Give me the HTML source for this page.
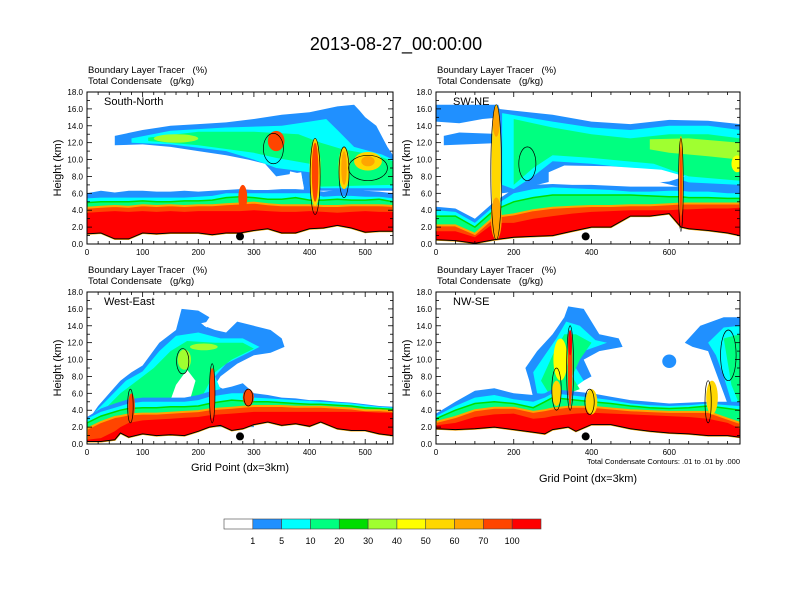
<!DOCTYPE html>
<html><head><meta charset="utf-8">
<style>
html,body{margin:0;padding:0;background:#fff;}
svg{display:block;font-family:"Liberation Sans",Arial,sans-serif;}
svg text{white-space:pre;}
</style></head>
<body>
<svg id="chart" width="792" height="612" viewBox="0 0 792 612" xmlns="http://www.w3.org/2000/svg">
<text x="396" y="50" font-size="18" text-anchor="middle">2013-08-27_00:00:00</text>
</svg>
<script>
const NS='http://www.w3.org/2000/svg';
const svg=document.getElementById('chart');
const C={blue:'#2090ff',cyan:'#00ffff',sg:'#00ff80',green:'#00dd00',lime:'#a0ff30',yellow:'#ffff00',gold:'#ffd700',orange:'#ffa500',or:'#ff4500',red:'#ff0000'};

// ---- Panel 1: South-North ----
const p1X=[0,25,50,75,100,125,150,175,200,225,250,275,300,325,350,375,400,425,450,475,500,525,550];
const p1Ground=[1.2,1.3,0.6,0.6,1.3,1.2,1.3,1.3,1.3,1.1,1.3,1.3,1.6,1.8,1.3,1.3,1.8,1.9,2.2,1.9,1.4,1.5,1.5];
const p1Red=[3.7,3.8,3.9,3.8,3.9,3.8,3.9,3.8,3.9,3.9,3.9,3.9,4.0,3.9,3.8,3.8,3.9,3.8,3.7,3.8,3.9,3.8,3.8];
const p1Or=[4.3,4.4,4.5,4.4,4.6,4.5,4.6,4.5,4.6,4.6,4.7,4.8,4.9,4.7,4.6,4.6,4.6,4.5,4.5,4.6,4.6,4.6,4.5];
const p1Green=[4.9,5.0,5.0,5.0,5.1,5.0,5.0,5.1,5.1,5.2,5.5,5.6,5.5,5.3,5.3,5.5,5.2,5.2,5.3,5.2,5.2,5.3,5.0];
const p1Cyan=[5.4,5.5,5.5,5.5,5.5,5.5,5.5,5.5,5.6,5.7,6.0,6.0,6.0,6.0,6.0,6.0,6.0,5.6,5.7,5.7,5.6,5.6,5.4];
const p1Blue=[6.0,6.3,6.1,6.3,6.3,6.2,6.2,6.3,6.2,6.3,6.4,6.5,6.4,6.4,6.5,6.5,6.4,6.2,6.4,6.5,6.3,6.2,6.0];
const p1CloudBlue=[[50,12.8],[100,13.5],[150,14],[200,14.2],[250,14.4],[300,14.8],[350,15.3],[400,15.6],[450,16.3],[480,16.5],[490,15.8],[500,15],[520,14],[540,11.5],[550,10.5],[550,6.3],[390,6.3],[385,8.5],[340,8],[320,9.5],[290,10],[250,10.5],[200,11],[150,11.5],[100,11.8],[50,11.7]];
const p1CloudCyan=[[80,12.5],[150,13.4],[250,13.8],[350,14],[400,14.5],[430,14.8],[450,13.5],[480,11.5],[530,10.6],[550,10],[550,6.6],[420,6.6],[400,8.5],[340,9],[300,10],[250,11],[150,11.8],[80,12]];
const p1CloudGreen=[[110,12.6],[200,13.3],[300,13.3],[380,13],[420,12],[460,11.2],[520,10.5],[550,9.8],[550,7],[420,6.8],[400,9.5],[340,10.2],[300,10.8],[200,11.7],[110,12.2]];
const p1Holes=[[[360,6.6],[390,6.6],[385,8.3],[365,8.6]]];
const p1Blobs=[[160,12.5,40,0.5,'lime'],[505,9.8,25,1.1,'gold'],[505,9.8,12,0.6,'orange'],[340,12.2,15,1.2,'or'],[410,8.5,10,4,'gold'],[410,8.5,6,3.5,'or'],[462,9,10,2.5,'gold'],[462,9,5,2,'orange'],[280,5.5,8,1.5,'or']];
const p1Contours=[[335,11.3,18,1.8],[410,8,9,4.5],[462,8.5,9,3],[505,9,35,1.5]];

// ---- Panel 2: SW-NE ----
const p2X=[0,50,100,150,200,250,300,350,400,450,500,550,600,630,650,700,750,782];
const p2Ground=[0.5,0.4,0.1,0.5,0.8,0.9,1.0,1.5,2.0,2.0,3.3,3.3,3.6,2.0,1.8,1.6,1.3,1.0];
const p2Red=[1.5,1.5,0.8,2.5,2.5,3.0,3.3,3.6,3.8,3.9,4.0,4.0,4.0,4.1,4.1,4.2,4.2,4.3];
const p2Or=[2.2,2.2,1.2,3.2,3.5,4.0,4.3,4.4,4.5,4.5,4.6,4.6,4.7,4.8,4.8,4.8,4.8,4.8];
const p2Green=[3.3,3.3,2.0,4.0,5.0,5.5,5.8,5.8,5.8,5.8,5.8,5.7,5.6,5.6,5.5,5.5,5.4,5.4];
const p2Cyan=[4.0,3.8,2.5,4.5,6.0,6.5,6.7,6.6,6.5,6.4,6.2,6.2,6.3,6.3,6.2,6.2,6.0,6.0];
const p2Blue=[4.4,4.2,3.0,5.0,6.5,7.0,7.1,7.0,7.0,6.9,6.8,6.8,6.8,6.8,6.7,6.6,6.5,6.5];
const p2CloudTop=[[0,14.5],[0,16.5],[160,16.5],[170,15],[120,14.8],[60,14.3]];
const p2CloudStrip=[[20,11.7],[180,12],[180,13],[60,13.2],[20,12.8]];
const p2CloudBlue=[[160,16],[200,15.8],[300,15.3],[400,14.5],[500,14.2],[600,14.7],[700,14.6],[782,14.2],[782,6.3],[650,6.5],[560,7.5],[450,7.8],[330,7.8],[260,7],[220,6.3],[170,6],[160,10]];
const p2CloudCyan=[[170,15.5],[300,14.5],[400,13.8],[500,13.5],[600,14],[700,14],[782,13.5],[782,7],[650,7.3],[560,8.7],[400,9.5],[300,9.8],[250,8],[200,6.5],[170,7]];
const p2CloudGreen=[[200,14.8],[300,13.8],[400,13],[500,12.5],[600,13],[700,13],[782,12.5],[782,7.5],[650,8],[560,9.5],[400,10.2],[300,10.5],[250,9],[200,7]];
const p2CloudLime=[[550,12.4],[650,12.5],[782,12],[782,10],[700,10.4],[600,10.8],[550,11.2]];
const p2Holes=[[[290,7],[400,7.2],[500,7.0],[600,7.4],[640,8],[580,8.8],[450,9.2],[330,9.3],[290,8.5]]];
const p2Blobs=[[155,9,12,7.5,'gold'],[155,14.5,9,1.8,'orange'],[155,3,14,2.5,'orange'],[630,8,6,4.8,'orange'],[630,7,3,4.5,'or'],[775,9.5,15,1,'yellow'],[240,10.5,15,1.5,'sg']];
const p2Contours=[[155,8.5,14,8],[235,9.5,22,2],[630,7,6,5.5]];

// ---- Panel 3: West-East ----
const p3X=[0,25,50,60,75,100,125,150,175,200,220,240,260,280,300,325,350,375,400,420,450,475,500,525,550];
const p3Ground=[0.3,0.3,0.5,1.3,0.8,1.2,1.0,1.1,1.0,1.5,2.0,2.2,1.6,1.8,2.3,2.6,2.2,2.4,2.1,2.6,1.8,1.6,1.6,1.2,1.0];
const p3Red=[0.5,0.7,1.5,2.0,2.5,2.8,2.9,3.0,3.1,3.2,3.4,3.5,3.6,3.7,3.8,3.8,3.8,3.8,3.8,3.8,3.8,3.8,3.8,3.7,3.7];
const p3Or=[1.8,2.6,3.2,3.3,3.5,3.6,3.6,3.7,3.8,3.9,4.1,4.2,4.3,4.4,4.5,4.5,4.5,4.4,4.4,4.4,4.3,4.2,4.0,4.0,3.9];
const p3Green=[2.5,3.3,3.8,4.0,4.2,4.3,4.3,4.4,4.4,4.5,4.8,5.0,5.2,5.1,5.0,5.0,4.9,4.8,4.7,4.7,4.6,4.5,4.3,4.2,4.1];
const p3Cyan=[3.0,3.8,4.3,4.5,4.8,5.0,5.0,5.0,5.0,5.2,5.6,5.8,6.0,6.0,5.5,5.4,5.3,5.2,5.1,5.0,4.9,4.8,4.6,4.4,4.3];
const p3Blue=[3.2,4.2,4.8,5.0,5.3,5.5,5.5,5.5,5.5,5.8,6.2,6.5,6.8,7.2,6.0,5.8,5.5,5.4,5.2,5.2,5.0,4.9,4.7,4.5,4.4];
const p3CloudBlue=[[0,2.6],[20,4.5],[40,6],[60,7.5],[80,8.5],[100,9.3],[130,12],[160,13.5],[170,16],[200,15.8],[220,15],[210,14],[230,13.5],[250,13.2],[270,14.5],[300,14],[330,13.5],[350,12.5],[355,11.5],[330,10.8],[300,10.5],[270,9.5],[240,8],[230,7],[260,6],[300,5.2],[300,2],[0,2]];
const p3CloudCyan=[[10,3.5],[40,5.5],[70,7.5],[100,8.6],[130,11],[160,12.8],[200,13.2],[240,12.5],[280,12.5],[310,11.5],[290,10.8],[250,9.5],[230,8],[240,6.5],[200,5],[150,5],[100,4.8],[10,2]];
const p3CloudGreen=[[30,4],[60,6],[90,7.5],[120,9],[150,11],[180,12.2],[230,12],[280,12],[300,11.3],[260,10],[230,8.5],[210,6],[180,5],[120,4.6],[50,3.5]];
const p3Holes=[[[150,5.2],[185,5.2],[195,7.5],[180,8.8],[160,7]],[[205,14.3],[225,14.6],[215,13.8]]];
const p3Blobs=[[175,10,12,1.2,'lime'],[225,6,5,3,'or'],[80,4.5,6,1.5,'or'],[290,5.5,10,1,'or'],[210,11.5,25,0.4,'lime']];
const p3Contours=[[172,9.8,11,1.5],[225,6,5,3.5],[78,4.5,5,2],[290,5.5,8,1]];

// ---- Panel 4: NW-SE ----
const p4X=[0,50,100,150,200,250,280,300,340,360,400,450,500,550,600,650,700,750,782];
const p4Ground=[1.8,1.7,1.8,2.0,1.7,1.4,1.2,1.7,2.0,1.5,2.3,2.3,1.8,1.5,1.3,1.2,1.0,1.0,0.8];
const p4Red=[2.2,2.5,3.2,3.5,3.6,3.0,3.1,3.3,3.5,3.6,3.7,3.6,3.5,3.4,3.3,3.2,3.0,2.5,1.8];
const p4Or=[2.6,3.2,4.0,4.3,4.3,3.8,4.0,4.2,4.4,4.4,4.4,4.2,4.0,3.9,3.8,3.8,3.8,3.0,2.5];
const p4Green=[3.0,4.0,4.8,5.0,4.8,4.3,5.0,5.5,5.3,5.2,5.0,4.8,4.5,4.3,4.2,4.3,4.5,4.2,4.0];
const p4Cyan=[3.3,4.5,5.5,5.8,5.3,5.0,5.5,6.0,5.8,5.7,5.5,5.2,4.8,4.6,4.5,4.6,4.8,4.6,4.5];
const p4Blue=[3.6,5.0,6.3,6.6,6.0,5.8,6.0,6.5,6.3,6.2,6.0,5.6,5.2,5.0,4.8,4.9,5.0,5.0,5.0];
const p4CloudBlue=[[230,9],[260,11],[300,13],[330,15],[340,16.3],[380,16],[420,13],[470,12.5],[480,11.5],[420,11],[380,10],[400,8],[360,7],[320,6],[280,5.5],[250,5.5],[240,7.5]];
const p4CloudCyan=[[250,8.5],[280,10.5],[310,12.5],[335,14.5],[370,14],[410,12.3],[440,12],[380,11],[360,9],[380,7.5],[350,6.5],[300,5.8],[260,6]];
const p4CloudGreen=[[270,7.5],[300,10.5],[330,13],[360,13],[400,12],[370,10],[350,8],[370,6.5],[330,5.8],[290,6]];
const p4CloudRight=[[640,12],[680,14],[740,15],[782,15],[782,2],[760,3.5],[740,6],[720,8.5],[700,11],[660,11.5]];
const p4CloudRight2=[[700,12],[740,13.8],[782,14],[782,3],[760,5],[740,8],[720,10.5]];
const p4CloudRight3=[[740,12.5],[782,13],[782,4.5],[760,7]];
const p4Holes=[];
const p4Blobs=[[320,10,18,2.5,'yellow'],[345,9,6,4.5,'or'],[345,12,5,1.5,'red'],[400,5,15,1.5,'gold'],[710,5.5,15,2,'gold'],[600,9.8,18,0.8,'blue'],[310,6,12,1.5,'gold']];
const p4Contours=[[345,9,9,5],[310,6.5,12,2.5],[752,10.5,20,3],[700,5,8,2.5],[395,5,12,1.5]];

// ---- Colorbar ----
const cbLabels=['1','5','10','20','30','40','50','60','70','100'];
const cbColors=['#ffffff','#2090ff','#00ffff','#00ff80','#00dd00','#a0ff30','#ffff00','#ffd700','#ffa500','#ff4500','#ff0000'];

const panels=[
 {name:'south-north',label:'South-North',x0:87,y0:92,w:306,h:152,xmax:550,major:100,minor:20,X:p1X,G:p1Ground,bands:[p1Blue,p1Cyan,p1Green,p1Or,p1Red],clouds:[[p1CloudBlue,'blue'],[p1CloudCyan,'cyan'],[p1CloudGreen,'sg']],holes:p1Holes,blobs:p1Blobs,cont:p1Contours,dot:275,xlab:false},
 {name:'sw-ne',label:'SW-NE',x0:436,y0:92,w:304,h:152,xmax:782,major:200,minor:50,X:p2X,G:p2Ground,bands:[p2Blue,p2Cyan,p2Green,p2Or,p2Red],clouds:[[p2CloudTop,'blue'],[p2CloudStrip,'blue'],[p2CloudBlue,'blue'],[p2CloudCyan,'cyan'],[p2CloudGreen,'sg'],[p2CloudLime,'lime']],holes:p2Holes,blobs:p2Blobs,cont:p2Contours,dot:385,xlab:false},
 {name:'west-east',label:'West-East',x0:87,y0:292,w:306,h:152,xmax:550,major:100,minor:20,X:p3X,G:p3Ground,bands:[p3Blue,p3Cyan,p3Green,p3Or,p3Red],clouds:[[p3CloudBlue,'blue'],[p3CloudCyan,'cyan'],[p3CloudGreen,'sg']],holes:p3Holes,blobs:p3Blobs,cont:p3Contours,dot:275,xlab:true},
 {name:'nw-se',label:'NW-SE',x0:436,y0:292,w:304,h:152,xmax:782,major:200,minor:50,X:p4X,G:p4Ground,bands:[p4Blue,p4Cyan,p4Green,p4Or,p4Red],clouds:[[p4CloudBlue,'blue'],[p4CloudCyan,'cyan'],[p4CloudGreen,'sg'],[p4CloudRight,'blue'],[p4CloudRight2,'cyan'],[p4CloudRight3,'sg']],holes:p4Holes,blobs:p4Blobs,cont:p4Contours,dot:385,xlab:true}
];
const bandColors=['blue','cyan','sg','or','red'];

function el(tag,attrs,parent){const e=document.createElementNS(NS,tag);for(const k in attrs)e.setAttribute(k,attrs[k]);(parent||svg).appendChild(e);return e;}

panels.forEach((P,pi)=>{
  const sx=v=>P.x0+v/P.xmax*P.w;
  const sy=v=>P.y0+(18-v)/18*P.h;
  const g=el('g',{});
  
  
  const cp=el('clipPath',{id:'cp'+pi},g);
  el('rect',{x:P.x0,y:P.y0,width:P.w,height:P.h},cp);
  const plot=el('g',{'clip-path':'url(#cp'+pi+')'},g);
  
  
  const poly=pts=>pts.map(p=>sx(p[0]).toFixed(1)+','+sy(p[1]).toFixed(1)).join(' ');
  P.clouds.forEach(c=>{
    const e=el('polygon',{points:poly(c[0]),fill:C[c[1]]},plot);
    
    
  });
  P.holes.forEach(hh=>{
    const e=el('polygon',{points:poly(hh),fill:'#fff'},plot);
    
    
  });
  P.bands.forEach((top,bi)=>{
    const pts=[];
    P.X.forEach((x,i)=>pts.push([x,top[i]]));
    for(let i=P.X.length-1;i>=0;i--)pts.push([P.X[i],P.G[i]]);
    const e=el('polygon',{points:poly(pts),fill:C[bandColors[bi]]},plot);
    if(bandColors[bi]==='or'){e.setAttribute('stroke',C.orange);e.setAttribute('stroke-width','2');}
    if(bandColors[bi]==='sg'){e.setAttribute('stroke',C.green);e.setAttribute('stroke-width','1.5');}
    
    
  });
  P.blobs.forEach(b=>{
    const e=el('ellipse',{cx:sx(b[0]),cy:sy(b[1]),rx:b[2]/P.xmax*P.w,ry:b[3]/18*P.h,fill:C[b[4]]},plot);
    
    
  });
  P.cont.forEach(b=>{
    const e=el('ellipse',{cx:sx(b[0]),cy:sy(b[1]),rx:b[2]/P.xmax*P.w,ry:b[3]/18*P.h,fill:'none',stroke:'#000','stroke-width':'0.7'},plot);
    
    
  });
  const gl=el('polyline',{points:poly(P.X.map((x,i)=>[x,P.G[i]])),fill:'none',stroke:'#000','stroke-width':'1'},plot);
  
  
  const dot=el('circle',{cx:sx(P.dot),cy:sy(0.9),r:4,fill:'#000'},plot);
  
  
  const fr=el('rect',{x:P.x0,y:P.y0,width:P.w,height:P.h,fill:'none',stroke:'#000','stroke-width':'1'},g);
  
  
  for(let v=0;v<=18;v+=1){
    const y=sy(v),L=v%2===0?5:3;
    el('line',{x1:P.x0,x2:P.x0+L,y1:y,y2:y,stroke:'#000','stroke-width':'0.8'},g);
    el('line',{x1:P.x0+P.w,x2:P.x0+P.w-L,y1:y,y2:y,stroke:'#000','stroke-width':'0.8'},g);
    if(v%2===0){
      const t=el('text',{x:P.x0-4,y:y+3,'font-size':'8','text-anchor':'end'},g);
      t.textContent=v.toFixed(1);
      
      
    }
  }
  for(let v=0;v<=P.xmax;v+=P.minor){
    const x=sx(v),L=v%P.major===0?5:3;
    el('line',{x1:x,x2:x,y1:P.y0+P.h,y2:P.y0+P.h-L,stroke:'#000','stroke-width':'0.8'},g);
    el('line',{x1:x,x2:x,y1:P.y0,y2:P.y0+L,stroke:'#000','stroke-width':'0.8'},g);
    if(v%P.major===0){
      const t=el('text',{x:x,y:P.y0+P.h+11,'font-size':'8','text-anchor':'middle'},g);
      t.textContent=String(v);
      
      
    }
  }
  const yt=el('text',{x:0,y:0,'font-size':'11','text-anchor':'middle',transform:'translate('+(P.x0-26)+','+(P.y0+P.h/2)+') rotate(-90)'},g);
  yt.textContent='Height (km)';
  
  
  const s1=el('text',{x:P.x0+1,y:P.y0-19,'font-size':'9.5'},g);
  s1.textContent='Boundary Layer Tracer   (%)';
  
  
  const s2=el('text',{x:P.x0+1,y:P.y0-8,'font-size':'9.5'},g);
  s2.textContent='Total Condensate   (g/kg)';
  
  
  const nm=el('text',{x:P.x0+17,y:P.y0+13,'font-size':'11'},g);
  nm.textContent=P.label;
  
  
  if(P.xlab){
    const xy=pi===3?P.y0+P.h+38:P.y0+P.h+27;
    const xt=el('text',{x:P.x0+P.w/2,y:xy,'font-size':'11','text-anchor':'middle'},g);
    xt.textContent='Grid Point (dx=3km)';
    
    
  }
  if(pi===3){
    const ct=el('text',{x:P.x0+P.w,y:P.y0+P.h+20,'font-size':'7.5','text-anchor':'end'},g);
    ct.textContent='Total Condensate Contours: .01 to .01 by .000';
    
    
  }
});

const cb=el('g',{});


const cbX=224,cbW=317,cbY=519,cbH=10,bw=cbW/cbColors.length;
cbColors.forEach((c,i)=>{
  const r=el('rect',{x:cbX+i*bw,y:cbY,width:bw,height:cbH,fill:c,stroke:'#444','stroke-width':'0.6'},cb);
  
  
});
cbLabels.forEach((l,i)=>{
  const t=el('text',{x:cbX+(i+1)*bw,y:544,'font-size':'9','text-anchor':'middle'},cb);
  t.textContent=l;
  
  
});
</script>
</body></html>
